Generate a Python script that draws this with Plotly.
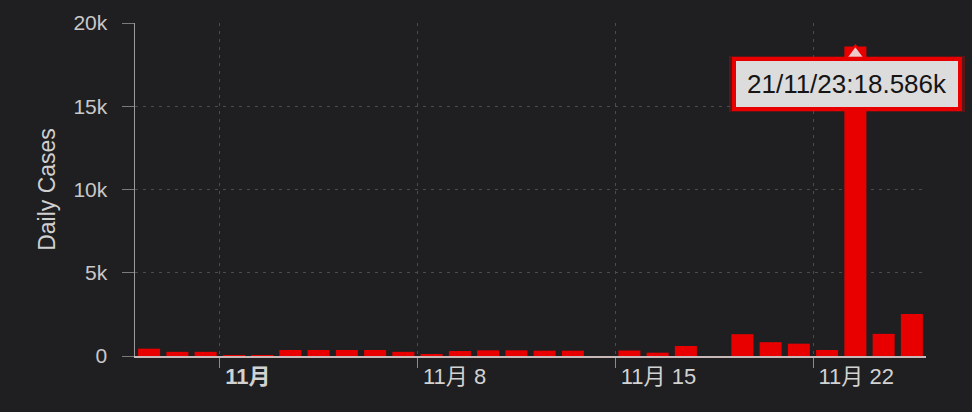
import plotly.graph_objects as go
import pandas as pd

# 每日新增病例 (21/10/29 ~ 21/11/25)
dates = pd.date_range("2021-10-29", "2021-11-25", freq="D")
daily_cases = [
    440, 250, 250, 60, 60, 360, 360, 360, 360, 250,
    80, 300, 340, 340, 320, 320, 0, 330, 200, 600,
    0, 1310, 830, 740, 360, 18586, 1330, 2530,
]
tick_dates = ["2021-11-01", "2021-11-08", "2021-11-15", "2021-11-22"]
tick_labels = ["<b>11月</b>", "11月 8", "11月 15", "11月 22"]
y_ticks = [0, 5000, 10000, 15000, 20000]
y_labels = ["0", "5k", "10k", "15k", "20k"]

BG = "#1f1f21"
RED = "#e80000"
FONT = "Liberation Sans, Noto Sans CJK SC, sans-serif"

fig = go.Figure()
fig.add_trace(go.Bar(
    x=dates, y=daily_cases,
    xperiod=86400000, xperiodalignment="middle",
    marker=dict(color=RED, line=dict(width=0)),
))

# 峰值提示框
peak_i = daily_cases.index(max(daily_cases))
peak_x = dates[peak_i] + pd.Timedelta(hours=12)
peak_y = daily_cases[peak_i]
peak_text = dates[peak_i].strftime("%y/%m/%d") + ":" + f"{peak_y / 1000:.3f}k"

# 小三角 (像素大小, 锚在柱顶)
fig.add_shape(
    type="path", xref="x", yref="y",
    xsizemode="pixel", ysizemode="pixel", xanchor=peak_x, yanchor=peak_y,
    path="M -15,-19 L 0,1 L 15,-19 Z",
    fillcolor="#efcaca", line=dict(color=RED, width=2), layer="above",
)
fig.add_annotation(
    x=peak_x, y=peak_y, text="", showarrow=False,
    xshift=-8, yshift=-37, width=226, height=46,
    bgcolor="rgba(0,0,0,0)", bordercolor="rgba(230,0,0,0.3)", borderwidth=3, borderpad=2,
)
fig.add_annotation(
    x=peak_x, y=peak_y, text=peak_text, showarrow=False,
    xshift=-8, yshift=-37, width=216, height=40,
    font=dict(size=26, color="#151515", family=FONT),
    bgcolor="#dcdcdc", bordercolor=RED, borderwidth=4, borderpad=3,
)

fig.update_layout(
    width=972, height=412,
    margin=dict(l=135, r=46, t=23, b=56),
    paper_bgcolor=BG, plot_bgcolor=BG,
    bargap=0.22, showlegend=False,
    font=dict(family=FONT, color="#cfcfcf", size=21),
)
fig.update_xaxes(
    type="date", range=["2021-10-29", "2021-11-26"],
    tickvals=tick_dates, ticktext=tick_labels,
    ticklabelposition="outside right", ticklabelshift=4,
    tickfont=dict(size=22, color="#d2d2d2"),
    ticks="outside", ticklen=10, tickcolor="#8a8a8a", tickwidth=1,
    showline=True, linecolor="#c9b8b8", linewidth=2,
    showgrid=True, gridcolor="#4c4c4c", griddash="3px,5px", gridwidth=1,
    zeroline=False,
)
fig.update_yaxes(
    range=[0, 20000], tickvals=y_ticks,
    ticktext=[s + "\u2002" for s in y_labels],  # 标签离轴远一点
    tickfont=dict(size=21, color="#c8c8c8"),
    ticks="outside", ticklen=12, tickcolor="#7a7a7a",
    showline=True, linecolor="#9a9a9a", linewidth=1,
    showgrid=True, gridcolor="#4c4c4c", griddash="3px,5px", gridwidth=1,
    zeroline=False,
    title=dict(text="Daily Cases", font=dict(size=23, color="#d0d0d0"), standoff=11),
)

# 去掉页面默认边距
fig.write_html("out.html", config={"displayModeBar": False},
               post_script="document.body.style.margin='0';")
